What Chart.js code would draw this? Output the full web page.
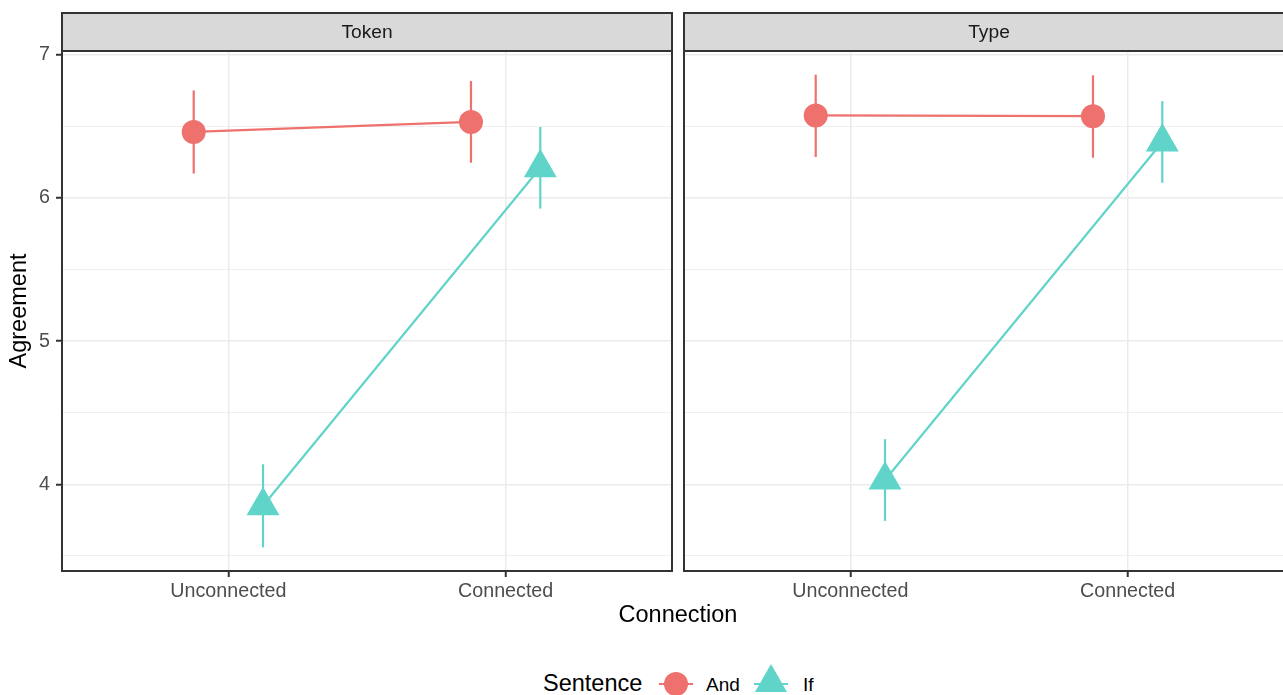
<!DOCTYPE html>
<html>
<head>
<meta charset="utf-8">
<title>Agreement by Connection</title>
<script src="https://cdn.jsdelivr.net/npm/chart.js@4.4.1/dist/chart.umd.min.js"></script>
<style>
  html, body { margin: 0; padding: 0; background: #fff; width: 1283px; height: 695px; overflow: hidden; }
  body { position: relative; font-family: "Liberation Sans", Arial, sans-serif; }
  canvas { position: absolute; top: 0; }
  #panelToken { left: 0; }
  #panelType { left: 672px; }
  .txt { position: absolute; white-space: nowrap; z-index: 2; }
  #xTitle { left: 678px; top: 603px; font-size: 23.5px; line-height: 23.5px; color: #000; transform: translateX(-50%); }
  .legTitle { font-size: 23.5px; line-height: 23.5px; color: #000; }
  .legLabel { font-size: 19px; line-height: 19px; color: #000; }
  .keyLine { position: absolute; height: 2px; z-index: 2; }
  .keyDot { position: absolute; width: 24px; height: 24px; border-radius: 50%; z-index: 2; }
  .keyTri { position: absolute; width: 0; height: 0; border-left: 16px solid transparent; border-right: 16px solid transparent; z-index: 2; }
</style>
</head>
<body>
<canvas id="panelToken" width="680" height="610"></canvas>
<canvas id="panelType" width="640" height="610"></canvas>
<div id="xTitle" class="txt">Connection</div>
<div id="legend"></div>

<script>
// categories and groups
const connection = ['Unconnected', 'Connected'];
const sentences = ['And', 'If'];
const sentenceColors = ['#EE716D', '#60D4C8'];

// Token panel: means and interval ends, per connection
const tokenAndMean = [6.46, 6.53];
const tokenAndLo   = [6.17, 6.245];
const tokenAndHi   = [6.75, 6.815];
const tokenIfMean  = [3.85, 6.21];
const tokenIfLo    = [3.56, 5.925];
const tokenIfHi    = [4.14, 6.495];

// Type panel
const typeAndMean = [6.575, 6.57];
const typeAndLo   = [6.285, 6.28];
const typeAndHi   = [6.86, 6.855];
const typeIfMean  = [4.03, 6.39];
const typeIfLo    = [3.745, 6.105];
const typeIfHi    = [4.315, 6.675];

// y ticks
const yMajorTicks = [4, 5, 6, 7];
const yMinorTicks = [3.5, 4.5, 5.5, 6.5];

// shared y range: data range plus 5% each side (like ggplot)
const allLo = [...tokenAndLo, ...tokenIfLo, ...typeAndLo, ...typeIfLo];
const allHi = [...tokenAndHi, ...tokenIfHi, ...typeAndHi, ...typeIfHi];
const dataMin = Math.min(...allLo);
const dataMax = Math.max(...allHi);
const yMin = dataMin - 0.05 * (dataMax - dataMin);
const yMax = dataMax + 0.05 * (dataMax - dataMin);

const DODGE = 0.125;
const FONT = '"Liberation Sans", Arial, sans-serif';
Chart.defaults.font.family = FONT;

function toPoints(mean, lo, hi, offset) {
    return mean.map((m, i) => ({ x: i + 1 + offset, y: m, lo: lo[i], hi: hi[i] }));
}

// vertical interval lines under the points
const errorBars = {
    id: 'errorBars',
    beforeDatasetsDraw(chart) {
        const { ctx, scales: { x, y } } = chart;
        ctx.save();
        ctx.lineWidth = 2.2;
        chart.data.datasets.forEach(ds => {
            ctx.strokeStyle = ds.borderColor;
            ds.data.forEach(p => {
                const px = x.getPixelForValue(p.x);
                ctx.beginPath();
                ctx.moveTo(px, y.getPixelForValue(p.lo));
                ctx.lineTo(px, y.getPixelForValue(p.hi));
                ctx.stroke();
            });
        });
        ctx.restore();
    }
};

// facet strip and panel border
const panelFrame = {
    id: 'panelFrame',
    afterDraw(chart, args, opts) {
        const { ctx, chartArea: a } = chart;
        const stripTop = 13;
        ctx.save();
        ctx.fillStyle = '#D9D9D9';
        ctx.fillRect(a.left, stripTop, a.right - a.left, a.top - stripTop);
        ctx.strokeStyle = '#333333';
        ctx.lineWidth = 2;
        ctx.strokeRect(a.left, stripTop, a.right - a.left, a.top - stripTop);
        ctx.strokeRect(a.left, a.top, a.right - a.left, a.bottom - a.top);
        ctx.fillStyle = '#1A1A1A';
        ctx.font = '19.2px ' + FONT;
        ctx.textAlign = 'center';
        ctx.textBaseline = 'middle';
        ctx.fillText(opts.label, (a.left + a.right) / 2, (stripTop + a.top) / 2 + 1);
        ctx.restore();
    }
};

function makePanel(canvasId, label, series, showY) {
    const datasets = series.map((s, i) => ({
        label: sentences[i],
        data: toPoints(s.mean, s.lo, s.hi, i === 0 ? -DODGE : DODGE),
        borderColor: sentenceColors[i],
        backgroundColor: sentenceColors[i],
        borderWidth: 2.2,
        showLine: true,
        tension: 0,
        pointStyle: i === 0 ? 'circle' : 'triangle',
        pointRadius: i === 0 ? 12 : 19,
        pointBorderWidth: 0,
        pointBackgroundColor: sentenceColors[i],
        clip: false
    }));

    return new Chart(document.getElementById(canvasId), {
        type: 'line',
        data: { datasets: datasets },
        plugins: [errorBars, panelFrame],
        options: {
            responsive: false,
            animation: false,
            events: [],
            layout: {
                autoPadding: false,
                padding: { top: 51, left: 0, right: showY ? 8 : 18, bottom: 0 }
            },
            plugins: {
                legend: { display: false },
                tooltip: { enabled: false },
                panelFrame: { label: label }
            },
            scales: {
                x: {
                    type: 'linear',
                    min: 0.4,
                    max: 2.6,
                    afterBuildTicks: s => { s.ticks = connection.map((c, i) => ({ value: i + 1 })); },
                    afterFit: s => {
                        s.height = 39;
                        s.paddingLeft = 0;
                        s.paddingRight = 0;
                    },
                    border: { display: false },
                    grid: { color: '#EBEBEB', lineWidth: 1.5, tickLength: 6, tickColor: '#333333', tickWidth: 2 },
                    ticks: {
                        color: '#4D4D4D', font: { size: 19.7 }, padding: 3,
                        maxRotation: 0, autoSkip: false,
                        callback: v => connection[v - 1]
                    }
                },
                y: {
                    type: 'linear',
                    min: yMin,
                    max: yMax,
                    afterBuildTicks: s => {
                        s.ticks = [...yMinorTicks, ...yMajorTicks].sort((a, b) => a - b).map(v => ({ value: v }));
                    },
                    afterFit: s => {
                        s.width = showY ? 62 : 12;
                        s.paddingTop = 0;
                        s.paddingBottom = 0;
                    },
                    border: { display: false },
                    grid: {
                        color: '#EBEBEB',
                        lineWidth: c => yMajorTicks.includes(c.tick.value) ? 1.5 : 0.8,
                        drawTicks: showY,
                        tickLength: 6,
                        tickWidth: 2,
                        tickColor: c => yMajorTicks.includes(c.tick.value) ? '#333333' : 'rgba(0,0,0,0)'
                    },
                    ticks: {
                        display: showY,
                        color: '#4D4D4D',
                        font: { size: 19.7 },
                        padding: 6,
                        callback: v => yMajorTicks.includes(v) ? String(v) : ''
                    },
                    title: {
                        display: showY,
                        text: 'Agreement',
                        color: '#000000',
                        font: { size: 23.5 },
                        padding: { top: 5, bottom: 0 }
                    }
                }
            }
        }
    });
}

makePanel('panelToken', 'Token', [
    { mean: tokenAndMean, lo: tokenAndLo, hi: tokenAndHi },
    { mean: tokenIfMean, lo: tokenIfLo, hi: tokenIfHi }
], true);

makePanel('panelType', 'Type', [
    { mean: typeAndMean, lo: typeAndLo, hi: typeAndHi },
    { mean: typeIfMean, lo: typeIfLo, hi: typeIfHi }
], false);

// legend at the bottom
const legend = document.getElementById('legend');
function addEl(cls, style, text) {
    const el = document.createElement('div');
    el.className = cls;
    Object.assign(el.style, style);
    if (text) el.textContent = text;
    legend.appendChild(el);
    return el;
}
addEl('txt legTitle', { left: '543px', top: '672px' }, 'Sentence');
const keyCenters = [676, 771];
const labelLefts = [706, 803];
sentences.forEach((s, i) => {
    const cx = keyCenters[i];
    addEl('keyLine', { left: (cx - 17) + 'px', top: '683px', width: '34px', background: sentenceColors[i] });
    if (i === 0) {
        addEl('keyDot', { left: (cx - 12) + 'px', top: '672px', background: sentenceColors[i] });
    } else {
        addEl('keyTri', { left: (cx - 16) + 'px', top: '664px', borderBottom: '28px solid ' + sentenceColors[i] });
    }
    addEl('txt legLabel', { left: labelLefts[i] + 'px', top: '675px' }, s);
});
</script>
</body>
</html>
